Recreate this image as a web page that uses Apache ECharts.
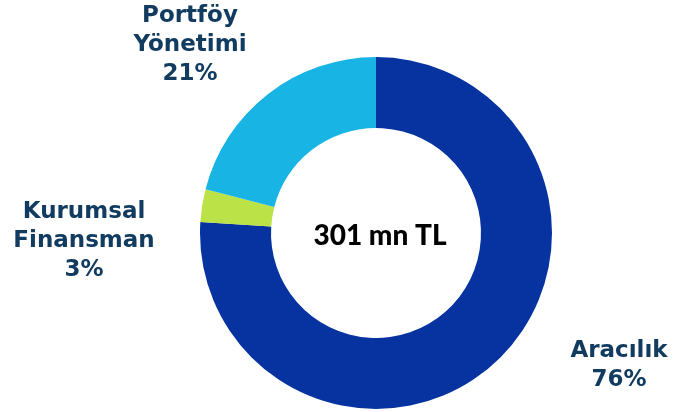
<!DOCTYPE html>
<html>
<head>
<meta charset="utf-8">
<script src="https://cdn.jsdelivr.net/npm/echarts@6/dist/echarts.min.js"></script>
<style>html,body{margin:0;padding:0;background:#fff}#c{width:674px;height:412px}</style>
</head>
<body>
<div id="c"></div>
<script>
var categories = ['Aracılık', 'Kurumsal\nFinansman', 'Portföy\nYönetimi'];
var values = [76, 3, 21];
var centerText = '301 mn TL';

var colors = ['#0633A0', '#BBE246', '#18B4E3'];
var labelOffsets = [[243, 133], [-292, 8], [-186, -188]];
var cx = 376, cy = 233;

var chart = echarts.init(document.getElementById('c'), null, {renderer: 'canvas'});
chart.setOption({
  animation: false,
  graphic: [{
    type: 'text',
    x: 380, y: 236,
    style: {
      text: centerText, align: 'center', verticalAlign: 'middle',
      fontFamily: 'Lato', fontWeight: 900, fontSize: 28, fill: '#000'
    }
  }],
  series: [{
    type: 'pie',
    center: [cx, cy],
    radius: [105, 176],
    startAngle: 90,
    clockwise: true,
    silent: true,
    data: categories.map(function (c, i) {
      return {name: c, value: values[i], itemStyle: {color: colors[i]}};
    }),
    label: {
      show: true,
      position: 'outside',
      formatter: function (p) { return p.name + '\n' + p.value + '%'; },
      fontFamily: 'DejaVu Sans', fontWeight: 'bold', fontSize: 23,
      lineHeight: 29, color: '#123B60', align: 'center'
    },
    labelLine: {show: false},
    labelLayout: function (params) {
      var o = labelOffsets[params.dataIndex];
      return {x: cx + o[0], y: cy + o[1], align: 'center', verticalAlign: 'middle'};
    }
  }]
});
</script>
</body>
</html>
